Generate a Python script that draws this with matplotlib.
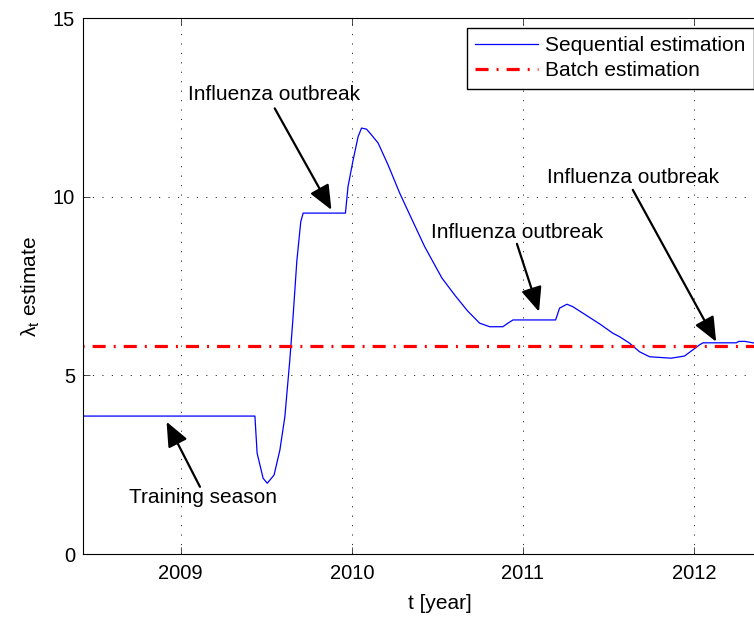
import numpy as np
import matplotlib
matplotlib.use("Agg")
from matplotlib import pyplot as plt

# Sequential estimate of lambda_t
t_seq = [2008.40, 2009.434, 2009.447, 2009.482, 2009.506, 2009.546, 2009.580,
         2009.609, 2009.638, 2009.655, 2009.679, 2009.702, 2009.716, 2009.963,
         2009.978, 2010.008, 2010.037, 2010.057, 2010.086, 2010.115, 2010.154,
         2010.212, 2010.280, 2010.339, 2010.426, 2010.527, 2010.601, 2010.677,
         2010.747, 2010.806, 2010.883, 2010.912, 2010.942, 2011.191, 2011.214,
         2011.257, 2011.292, 2011.448, 2011.525, 2011.565, 2011.623, 2011.681,
         2011.740, 2011.866, 2011.944, 2011.992, 2012.031, 2012.052, 2012.246,
         2012.262, 2012.297, 2012.355, 2012.45]
lam_seq = [3.86, 3.86, 2.82, 2.12, 1.98, 2.21, 2.91,
           3.84, 5.43, 6.50, 8.20, 9.30, 9.54, 9.54,
           10.28, 11.03, 11.68, 11.92, 11.89, 11.73, 11.50,
           10.89, 10.10, 9.49, 8.60, 7.72, 7.25, 6.80,
           6.46, 6.36, 6.36, 6.46, 6.55, 6.55, 6.88,
           6.99, 6.92, 6.44, 6.18, 6.08, 5.90, 5.66,
           5.52, 5.48, 5.54, 5.71, 5.85, 5.91, 5.91,
           5.95, 5.95, 5.90, 5.88]

# Batch estimate
lam_batch = 5.82

xticks = [2009, 2010, 2011, 2012]
yticks = [0, 5, 10, 15]

# annotations: (text, text position, arrow head, arrow tail)
notes = [
    ("Training season", (2009.13, 1.57), (2008.918, 3.70), (2009.113, 1.88)),
    ("Influenza outbreak", (2009.545, 12.85), (2009.881, 9.63), (2009.55, 12.47)),
    ("Influenza outbreak", (2010.963, 9.01), (2011.094, 6.78), (2010.965, 8.68)),
    ("Influenza outbreak", (2011.646, 10.55), (2012.129, 5.94), (2011.642, 10.19)),
]

plt.rcParams['font.family'] = ['Liberation Sans', 'DejaVu Sans']
plt.rcParams['mathtext.fontset'] = 'custom'
plt.rcParams['mathtext.rm'] = 'Liberation Sans'
plt.rcParams['mathtext.it'] = 'Liberation Sans:italic'
plt.rcParams['lines.scale_dashes'] = False

W, H = 754, 620
fig = plt.figure(figsize=(W / 100, H / 100), dpi=100)
left, right, top, bottom = 83.3, 796, 18, 554
ax = fig.add_axes([left / W, 1 - bottom / H, (right - left) / W, (bottom - top) / H])

ax.plot(t_seq, lam_seq, color=(0, 0, 1), lw=0.9, label="Sequential estimation")
ax.plot([2008.3, 2012.7], [lam_batch, lam_batch], color=(1, 0, 0), lw=2.3,
        linestyle=(0, (9.4, 5.8, 1.4, 5.8)), label="Batch estimation")

ax.set_xlim(2009 - (180.7 - left) / 171.3, 2012 + (right - 694) / 171.3)
ax.set_ylim(0, 15)
ax.set_xticks(xticks)
ax.set_yticks(yticks)
ax.tick_params(direction='in', top=True, right=True, length=5, width=0.5,
               labelsize=14.5, colors='black')
ax.tick_params(axis='x', pad=7)
ax.tick_params(axis='y', pad=6)
ax.grid(True, color='black', linestyle=(0, (0.8, 6.0)), lw=0.6)
for s in ax.spines.values():
    s.set_linewidth(0.8)

ax.set_xlabel("t [year]", fontsize=15, labelpad=8)
ax.set_ylabel(r"$\mathrm{\lambda}_\mathrm{t}$ estimate", fontsize=15, labelpad=8)

for txt, tpos, head, tail in notes:
    ax.text(tpos[0], tpos[1], txt, fontsize=15, ha='center', va='center')
    ax.annotate("", xy=head, xytext=tail,
                arrowprops=dict(arrowstyle='-|>,head_length=0.75,head_width=0.32',
                                mutation_scale=20, lw=1.6, color='black',
                                shrinkA=0, shrinkB=0))

leg = ax.legend(loc='upper left', bbox_to_anchor=(467 / W, 1 - 28 / H),
                bbox_transform=fig.transFigure, borderaxespad=0, fontsize=15,
                handlelength=3.0, handletextpad=0.34, borderpad=0.4,
                labelspacing=0.28, fancybox=False, framealpha=1,
                edgecolor='black')
leg.get_frame().set_linewidth(1.0)

plt.savefig("out.png", dpi=100)
plt.close()
